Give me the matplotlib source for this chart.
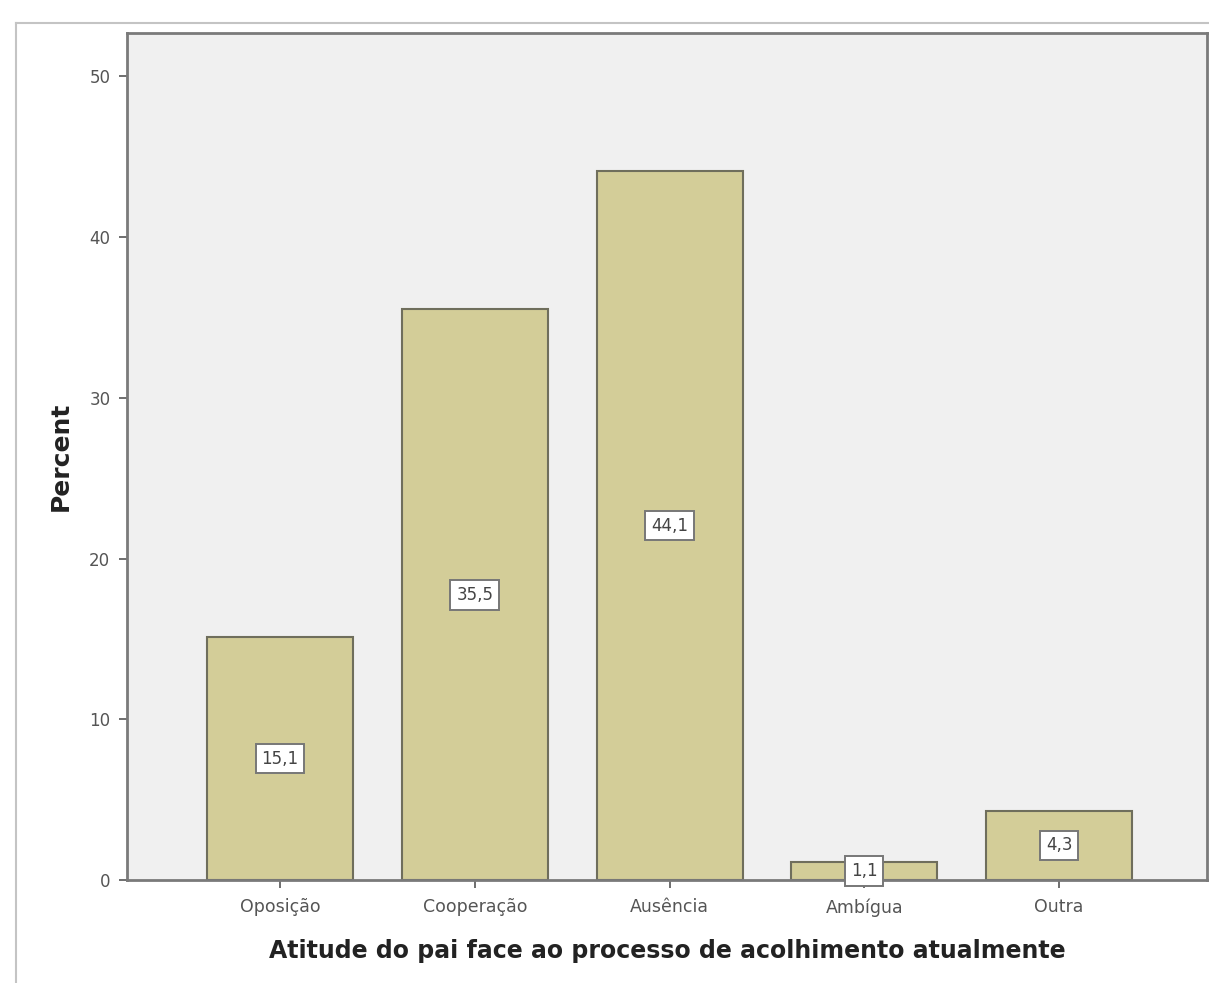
import matplotlib
matplotlib.use("Agg")
import matplotlib.pyplot as plt
from matplotlib.lines import Line2D

categories = ["Oposição", "Cooperação", "Ausência", "Ambígua", "Outra"]
percent = [15.1, 35.5, 44.1, 1.1, 4.3]
value_labels = ["15,1", "35,5", "44,1", "1,1", "4,3"]
yticks = [0, 10, 20, 30, 40, 50]

W, H = 1209, 983
fig = plt.figure(figsize=(W / 100, H / 100), dpi=100)
fig.patch.set_facecolor("white")

# outer chart frame
fig.add_artist(Line2D([16 / W, 16 / W], [0, 1 - 23 / H], transform=fig.transFigure,
                      color="#c4c4c4", lw=1.5))
fig.add_artist(Line2D([16 / W, 1], [1 - 23 / H, 1 - 23 / H], transform=fig.transFigure,
                      color="#c4c4c4", lw=1.5))

left, right, top, bottom = 127 / W, 1207 / W, 1 - 33 / H, 1 - 880 / H
ax = fig.add_axes([left, bottom, right - left, top - bottom])
ax.set_facecolor("#f0f0f0")

x = list(range(len(categories)))
ax.bar(x, percent, width=0.75, color="#d3cd98", edgecolor="#6f6e5c", linewidth=1.5, zorder=2)

for xi, v, lab in zip(x, percent, value_labels):
    ax.text(xi, v / 2, lab, ha="center", va="center", fontsize=12, color="#444444",
            family="DejaVu Sans", zorder=4,
            bbox=dict(boxstyle="square,pad=0.35", facecolor="white", edgecolor="#777777", linewidth=1.4))

ax.set_xlim(-0.786, 4.76)
ax.set_ylim(0, 52.7)
ax.set_xticks(x)
ax.set_xticklabels(categories, fontsize=12.5, color="#555555", family="DejaVu Sans")
ax.set_yticks(yticks)
ax.set_yticklabels([str(t) for t in yticks], fontsize=12, color="#555555", family="DejaVu Sans")
ax.tick_params(axis="both", direction="out", length=6, width=1.2, color="#555555", pad=6)
ax.tick_params(axis="x", pad=7)

for s in ["left", "bottom", "top", "right"]:
    ax.spines[s].set_color("#7a7a7a")
    ax.spines[s].set_linewidth(2)

ax.set_ylabel("Percent", fontsize=18, fontweight="bold", family="DejaVu Sans", labelpad=12, color="#222222")
ax.set_xlabel("Atitude do pai face ao processo de acolhimento atualmente", fontsize=17,
              fontweight="bold", family="DejaVu Sans", labelpad=16, color="#222222")

fig.savefig("out.png", dpi=100)
